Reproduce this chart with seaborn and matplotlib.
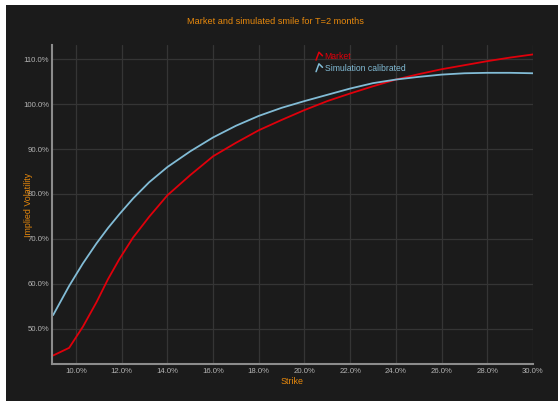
import numpy as np
import pandas as pd
import matplotlib
matplotlib.use("Agg")
import matplotlib.pyplot as plt
from matplotlib.lines import Line2D
from matplotlib.legend_handler import HandlerBase
from matplotlib.patches import Rectangle
import seaborn as sns

# Strikes (%) and implied volatilities (%) for the 2-month smile
strikes = [9.0, 9.7, 10.3, 10.9, 11.4, 11.9, 12.5, 13.2, 14.0, 15.0,
           16.0, 17.0, 18.0, 19.0, 20.0, 21.0, 22.0, 23.0, 24.0, 25.0,
           26.0, 27.0, 28.0, 29.0, 30.0]
market_vol = [44.0, 45.7, 50.4, 55.9, 61.0, 65.5, 70.3, 74.9, 79.7, 84.2,
              88.4, 91.4, 94.2, 96.5, 98.7, 100.7, 102.4, 104.0, 105.5, 106.7,
              107.8, 108.7, 109.6, 110.4, 111.1]
simulated_vol = [53.0, 59.5, 64.5, 69.0, 72.4, 75.5, 79.0, 82.6, 86.0, 89.5,
                 92.6, 95.2, 97.4, 99.2, 100.7, 102.1, 103.5, 104.7, 105.5, 106.1,
                 106.6, 106.9, 107.0, 107.0, 106.9]
series_names = ["Market", "Simulation calibrated"]
x_ticks = [10, 12, 14, 16, 18, 20, 22, 24, 26, 28, 30]
y_ticks = [50, 60, 70, 80, 90, 100, 110]

df = pd.DataFrame({
    "Strike": strikes * 2,
    "Vol": market_vol + simulated_vol,
    "Series": [series_names[0]] * len(strikes) + [series_names[1]] * len(strikes),
})

BG = "#1b1b1b"
ORANGE = "#e8890c"
TICK = "#b4b4b4"
GRID = "#353535"
colors = {series_names[0]: "#e0000b", series_names[1]: "#82bcd6"}

sns.set_style("dark")
plt.rcParams["font.family"] = ["Liberation Sans", "DejaVu Sans"]

fig = plt.figure(figsize=(5.58, 4.01), dpi=100, facecolor="white")
W, H = 558, 401
# dark canvas (leaves a thin white margin at left and top)
fig.patches.append(Rectangle((6 / W, 0), 1 - 6 / W, 1 - 5 / H,
                             transform=fig.transFigure, facecolor=BG,
                             edgecolor="none", zorder=-10))

ax = fig.add_axes([52 / W, 1 - 364 / H, (533 - 52) / W, (364 - 45) / H])
ax.set_facecolor(BG)

sns.lineplot(data=df, x="Strike", y="Vol", hue="Series", palette=colors,
             linewidth=1.3, ax=ax, legend=False, sort=False)

ax.set_xlim(8.95, 30.0)
ax.set_ylim(42.1, 113.2)
ax.set_xticks(x_ticks)
ax.set_yticks(y_ticks)
ax.set_xticklabels([f"{t:.1f}%" for t in x_ticks])
ax.set_yticklabels([f"{t:.1f}%" for t in y_ticks])
ax.tick_params(axis="both", length=0, colors=TICK, labelsize=5.6)
ax.tick_params(axis="y", pad=2)
ax.tick_params(axis="x", pad=3)
ax.grid(True, color=GRID, linewidth=0.9)

for side in ("top", "right"):
    ax.spines[side].set_visible(False)
for side in ("left", "bottom"):
    ax.spines[side].set_visible(True)
    ax.spines[side].set_color("#8c8c8c")
    ax.spines[side].set_linewidth(1.5)

ax.set_xlabel("Strike", color=ORANGE, fontsize=6.4)
ax.set_ylabel("Implied Volatility", color=ORANGE, fontsize=6.4)
ax.xaxis.set_label_coords(0.5, -0.04)
ax.yaxis.set_label_coords(-0.039, 0.5)

fig.text(0.493, 1 - 22 / H, "Market and simulated smile for T=2 months",
         color=ORANGE, fontsize=6.6, ha="center", va="center")


class CaretHandler(HandlerBase):
    """Small peaked line glyph used as the legend key."""

    def create_artists(self, legend, orig_handle, xdescent, ydescent,
                       width, height, fontsize, trans):
        xs = np.array([0.0, 0.45, 1.0]) * width - xdescent
        ys = np.array([0.0, 1.0, 0.55]) * height * 1.1 - ydescent
        line = Line2D(xs, ys, color=orig_handle.get_color(), linewidth=1.1,
                      transform=trans)
        return [line]


handles = [Line2D([], [], color=colors[n]) for n in series_names]
leg = ax.legend(handles, series_names, loc="upper left",
                bbox_to_anchor=(0.54, 0.99), frameon=False,
                fontsize=6.2, handlelength=0.75, handleheight=0.9,
                handletextpad=0.25, borderpad=0, labelspacing=0.3,
                handler_map={Line2D: CaretHandler()})
for txt, n in zip(leg.get_texts(), series_names):
    txt.set_color(colors[n])

fig.savefig("out.png", dpi=100, facecolor=fig.get_facecolor())
